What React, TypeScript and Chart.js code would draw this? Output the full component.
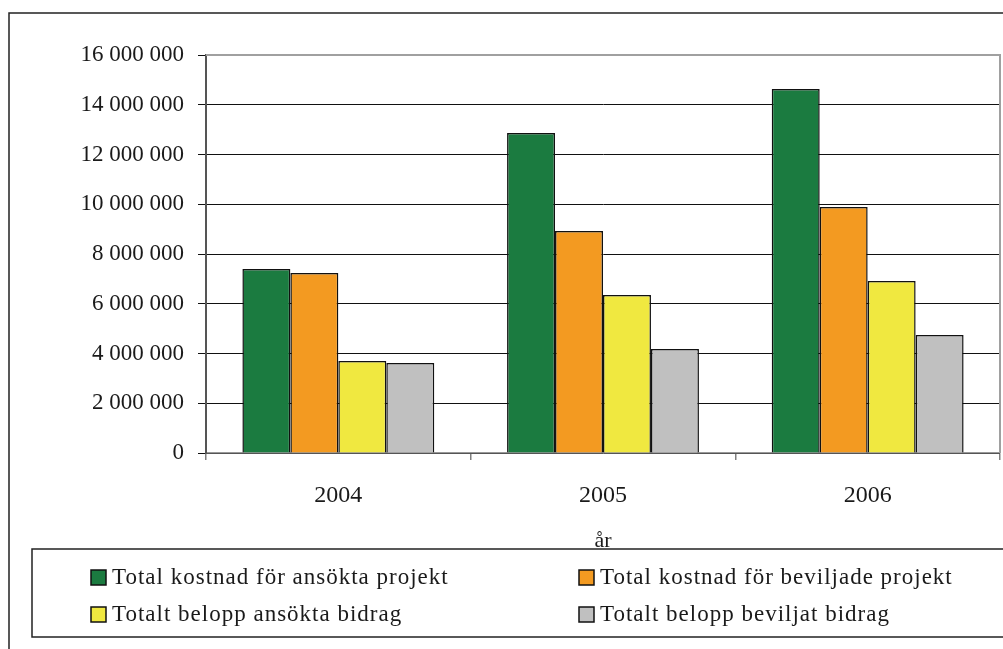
import React, { useEffect, useRef } from "react";
import { Chart, registerables } from "chart.js";

Chart.register(...registerables);

const categories = ["2004", "2005", "2006"];
const seriesNames = [
  "Total kostnad för ansökta projekt",
  "Total kostnad för beviljade projekt",
  "Totalt belopp ansökta bidrag",
  "Totalt belopp beviljat bidrag",
];
const ansoktaKostnad = [7400000, 12860000, 14630000];
const beviljadeKostnad = [7240000, 8920000, 9890000];
const ansoktaBidrag = [3700000, 6350000, 6910000];
const beviljatBidrag = [3620000, 4180000, 4740000];
const seriesColors = ["#1b7b40", "#f39a21", "#f0e840", "#c0c0c0"];
const yMax = 16000000;
const yStep = 2000000;
const axisTitle = "år";

const FONT = '"Liberation Serif", "Times New Roman", serif';

function fmt(v: number): string {
  return String(Math.round(v)).replace(/\B(?=(\d{3})+(?!\d))/g, " ");
}

const decoPlugin = {
  id: "deco",
  beforeDraw(chart: any) {
    const ctx = chart.ctx;
    ctx.save();
    ctx.fillStyle = "#ffffff";
    ctx.fillRect(0, 0, chart.width, chart.height);
    ctx.strokeStyle = "#222222";
    ctx.lineWidth = 1.5;
    ctx.strokeRect(9, 13, chart.width + 20, chart.height + 20);
    ctx.restore();
  },
  beforeDatasetsDraw(chart: any) {
    const { ctx, chartArea } = chart;
    ctx.save();
    ctx.strokeStyle = "#a0a0a0";
    ctx.lineWidth = 2;
    ctx.beginPath();
    ctx.moveTo(chartArea.left, chartArea.top);
    ctx.lineTo(chartArea.right, chartArea.top);
    ctx.lineTo(chartArea.right, chartArea.bottom);
    ctx.stroke();
    ctx.restore();
  },
  afterDraw(chart: any) {
    const ctx = chart.ctx;
    const { chartArea } = chart;
    ctx.save();
    // legend box
    ctx.fillStyle = "#ffffff";
    ctx.fillRect(32, 549, chart.width, 88);
    // axis title
    ctx.fillStyle = "#1a1a1a";
    ctx.font = `22px ${FONT}`;
    ctx.textAlign = "center";
    ctx.textBaseline = "alphabetic";
    ctx.fillText(axisTitle, (chartArea.left + chartArea.right) / 2, 547);
    ctx.strokeStyle = "#222222";
    ctx.lineWidth = 1.5;
    ctx.strokeRect(32, 549, chart.width + 20, 88);
    const ds = chart.data.datasets;
    const cols = [91, 579];
    const rows = [577, 614];
    ds.forEach((d: any, i: number) => {
      const x = cols[i % 2];
      const y = rows[Math.floor(i / 2)];
      ctx.fillStyle = d.backgroundColor;
      ctx.fillRect(x, y - 7, 15, 15);
      ctx.strokeStyle = "#111111";
      ctx.lineWidth = 1.5;
      ctx.strokeRect(x, y - 7, 15, 15);
      ctx.fillStyle = "#1a1a1a";
      ctx.font = `23px ${FONT}`;
      (ctx as any).letterSpacing = "1px";
      ctx.textAlign = "left";
      ctx.textBaseline = "middle";
      ctx.fillText(d.label, x + 21, y + 1);
      (ctx as any).letterSpacing = "0px";
    });
    ctx.restore();
  },
};

export default function App() {
  const ref = useRef<HTMLCanvasElement | null>(null);
  useEffect(() => {
    document.body.style.margin = "0";
    const canvas = ref.current;
    if (!canvas) return;
    const values = [ansoktaKostnad, beviljadeKostnad, ansoktaBidrag, beviljatBidrag];
    const chart = new Chart(canvas, {
      type: "bar",
      data: {
        labels: categories,
        datasets: values.map((v, i) => ({
          label: seriesNames[i],
          data: v,
          backgroundColor: seriesColors[i],
          borderColor: "#111111",
          borderWidth: 1.5,
          categoryPercentage: 0.725,
          barPercentage: 1.0,
        })),
      },
      options: {
        responsive: false,
        animation: false,
        devicePixelRatio: 1,
        layout: { padding: { left: 0, top: 55, right: 3, bottom: 0 } },
        plugins: {
          legend: { display: false },
          tooltip: { enabled: false },
          title: { display: false },
        },
        scales: {
          x: {
            offset: true,
            grid: {
              display: true,
              offset: true,
              drawOnChartArea: false,
              drawTicks: true,
              tickLength: 7,
              color: "#808080",
              lineWidth: 1.5,
            },
            border: { display: true, color: "#999999", width: 1.5 },
            ticks: {
              color: "#1a1a1a",
              font: { family: FONT, size: 24 },
              padding: 21,
            },
            afterFit(scale: any) {
              scale.height = 196;
            },
          },
          y: {
            min: 0,
            max: yMax,
            ticks: {
              stepSize: yStep,
              color: "#1a1a1a",
              font: { family: FONT, size: 23 },
              padding: 14,
              callback: (v: any) => fmt(Number(v)),
            },
            grid: {
              color: "#111111",
              lineWidth: 1,
              tickLength: 8,
              tickColor: "#111111",
            },
            border: { display: true, color: "#555555", width: 2 },
            afterFit(scale: any) {
              scale.width = 206;
            },
          },
        },
      },
      plugins: [decoPlugin],
    } as any);
    return () => chart.destroy();
  }, []);
  return (
    <div style={{ position: "absolute", left: 0, top: 0, width: 1003, height: 649 }}>
      <canvas ref={ref} width={1003} height={649} style={{ display: "block" }} />
    </div>
  );
}
